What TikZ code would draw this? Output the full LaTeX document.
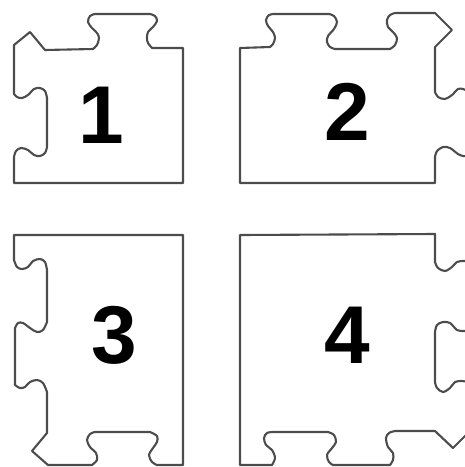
\documentclass[tikz,border=0pt]{standalone}
\usepackage{fontspec}
\setmainfont{Liberation Sans}
\begin{document}
\begin{tikzpicture}[x=1pt,y=-1pt,
  tile/.style={draw=black!70,line width=2.1pt,line join=round,line cap=round},
  num/.style={font=\fontsize{82}{82}\selectfont\bfseries,inner sep=0pt,text=black},
  sm/.style={smooth,tension=0.55}]
\useasboundingbox (0,0) rectangle (465,467);
\clip (0,0) rectangle (465,467);
% Tile 1
\draw[tile] (14,183) -- (183,183) -- (183,48) -- (152,48)
 -- plot[sm] coordinates {(152,48) (148,43) (147,38) (148,32) (153,27) (157,21) (155,16) (150,14)}
 -- (95,14)
 -- plot[sm] coordinates {(95,14) (90,16) (88,22) (92,28) (97,33) (99,38) (97,45) (93,49)}
 -- (45,50) -- (30,32) -- (14,45) -- (14,94)
 -- plot[sm] coordinates {(14,94) (17,97) (22,98) (28,95) (34,89) (40,88) (45,91) (47,98)}
 -- (47,147)
 -- plot[sm] coordinates {(47,147) (45,153) (40,156) (34,155) (28,150) (21,148) (16,151) (14,157)}
 -- cycle;
% Tile 2
\draw[tile] plot[sm] coordinates {(468,156) (463,156) (458,154) (450,148) (443,147) (437,151) (435,157)}
 -- (435,183) -- (240,183) -- (240,48) -- (270,47)
 -- plot[sm] coordinates {(270,47) (273,44) (275,38) (273,32) (268,26) (266,20) (269,15) (274,14)}
 -- (329,14)
 -- plot[sm] coordinates {(329,14) (334,16) (337,22) (334,29) (328,36) (327,42) (330,47) (335,49)}
 -- (390,49)
 -- plot[sm] coordinates {(390,49) (395,45) (397,38) (393,32) (388,27) (387,20) (390,15) (395,13)}
 -- (435,13) -- (452,30) -- (435,47) -- (435,92)
 -- plot[sm] coordinates {(435,92) (438,97) (445,99) (452,95) (458,89) (463,89) (468,91)};
% Tile 3
\draw[tile] (14,235) -- (183,235) -- (183,465) -- (157,465)
 -- plot[sm] coordinates {(157,465) (152,462) (149,455) (153,448) (157,442) (157,436) (150,432)}
 -- (95,432)
 -- plot[sm] coordinates {(95,432) (90,434) (87,440) (90,447) (96,453) (97,460) (92,465)}
 -- (48,465) -- (32,451) -- (47,433) -- (47,392)
 -- plot[sm] coordinates {(47,392) (43,383) (37,380) (30,382) (25,387) (20,388) (15,385)}
 -- (15,328)
 -- plot[sm] coordinates {(15,328) (18,323) (23,323) (30,328) (37,332) (43,330) (47,322)}
 -- (47,270)
 -- plot[sm] coordinates {(47,270) (45,262) (40,259) (33,261) (28,267) (22,269) (17,267) (14,260)}
 -- cycle;
% Tile 4
\draw[tile] plot[sm] coordinates {(468,261) (463,261) (457,262) (452,267) (445,271) (438,268) (435,262)}
 -- (435,234) -- (240,235) -- (240,465) -- (272,465)
 -- plot[sm] coordinates {(272,465) (275,458) (272,450) (266,445) (264,438) (267,433) (273,432)}
 -- (328,432)
 -- plot[sm] coordinates {(328,432) (334,435) (336,442) (332,448) (327,455) (329,462) (333,465)}
 -- (390,465)
 -- plot[sm] coordinates {(390,465) (393,460) (393,453) (388,447) (386,438) (389,433) (395,431)}
 -- (435,431) -- (453,448) -- (468,433);
\draw[tile] plot[sm] coordinates {(468,331) (463,331) (457,330) (450,323) (443,322) (437,325) (435,332)}
 -- (435,382)
 -- plot[sm] coordinates {(435,382) (437,388) (443,392) (450,388) (455,382) (462,381) (468,382)};
% Numbers
\node[num] (n1) at (101,115) {1};
\node[num] (n2) at (347,112) {2};
\node[num] (n3) at (114,335) {3};
\node[num] (n4) at (347,335) {4};
\end{tikzpicture}
\end{document}
